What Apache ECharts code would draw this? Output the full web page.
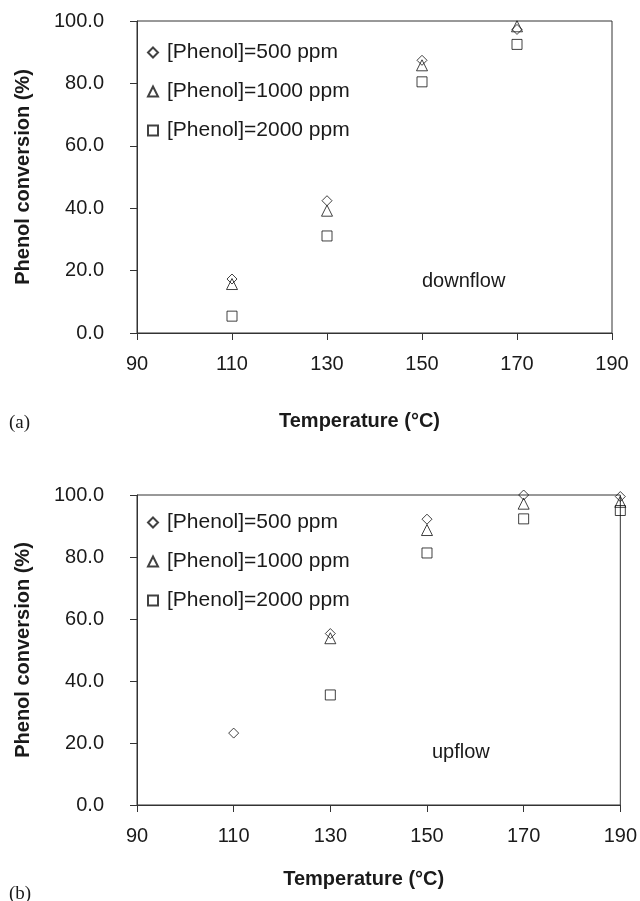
<!DOCTYPE html>
<html>
<head>
<meta charset="utf-8">
<script src="https://cdn.jsdelivr.net/npm/echarts@6/dist/echarts.min.js"></script>
<style>
html,body{margin:0;padding:0;background:#fff;}
#chart{width:640px;height:901px;}
</style>
</head>
<body>
<div id="chart"></div>
<script>
// ---- data ----
const seriesNames = ['[Phenol]=500 ppm', '[Phenol]=1000 ppm', '[Phenol]=2000 ppm'];
const xTicks = [90, 110, 130, 150, 170, 190];
const yTicks = [0, 20, 40, 60, 80, 100];

const downTemps = [110, 130, 150, 170];
const down500 = [17.3, 42.4, 87.4, 97.3];
const down1000 = [15.7, 39.2, 85.8, 98.3];
const down2000 = [5.4, 31.1, 80.5, 92.5];

const upTemps = [110, 130, 150, 170, 190];
const up500 = [23.2, 55.3, 92.2, 100.0, 99.5];
const up1000 = [null, 53.8, 88.7, 97.2, 97.8];
const up2000 = [null, 35.5, 81.3, 92.3, 95.0];

const panelLabels = ['(a)', '(b)'];
const flowLabels = ['downflow', 'upflow'];
const xTitle = 'Temperature (\u00B0C)';
const yTitle = 'Phenol conversion (%)';

// ---- helpers ----
const symbols = ['diamond', 'triangle', 'rect'];
const symbolSizes = [10, 11, 10];
const TXT = '#1a1a1a';
const LINE = '#333';
const FONT = '"Liberation Sans", Arial, sans-serif';

function pairs(xs, ys) {
  const out = [];
  xs.forEach((x, i) => { if (ys[i] !== null) out.push([x, ys[i]]); });
  return out;
}

function xAxisCfg(gridIndex, nameGap) {
  return {
    type: 'value', gridIndex, min: xTicks[0], max: xTicks[xTicks.length - 1], interval: 20,
    name: xTitle, nameLocation: 'middle', nameGap,
    nameTextStyle: { fontFamily: FONT, fontWeight: 'bold', fontSize: 20, color: TXT, padding: [0, 30, 0, 0] },
    axisLine: { show: true, lineStyle: { color: LINE, width: 1 } },
    axisTick: { show: true, inside: false, length: 7, lineStyle: { color: LINE } },
    axisLabel: { fontFamily: FONT, fontSize: 20, color: TXT, margin: 21 },
    splitLine: { show: false }
  };
}
function yAxisCfg(gridIndex) {
  return {
    type: 'value', gridIndex, min: yTicks[0], max: yTicks[yTicks.length - 1], interval: 20,
    name: yTitle, nameLocation: 'middle', nameGap: 104, nameRotate: 90,
    nameTextStyle: { fontFamily: FONT, fontWeight: 'bold', fontSize: 20, color: TXT },
    axisLine: { show: true, lineStyle: { color: LINE, width: 1 } },
    axisTick: { show: true, inside: false, length: 7, lineStyle: { color: LINE } },
    axisLabel: { fontFamily: FONT, fontSize: 20, color: TXT, margin: 33, formatter: v => v.toFixed(1) },
    splitLine: { show: false }
  };
}
function scatter(name, idx, gridIdx, xs, ys) {
  return {
    type: 'scatter', name, xAxisIndex: gridIdx, yAxisIndex: gridIdx,
    symbol: symbols[idx], symbolSize: symbolSizes[idx],
    itemStyle: { color: 'rgba(255,255,255,0)', borderColor: '#111', borderWidth: 1 },
    data: pairs(xs, ys)
  };
}
function legendCfg(top, gap) {
  return {
    orient: 'vertical', left: 147, top, padding: 0, itemGap: gap,
    itemWidth: 10, itemHeight: 10, data: seriesNames, selectedMode: false,
    textStyle: { fontFamily: FONT, fontSize: 21, color: TXT, lineHeight: 21, padding: [0, 0, 0, 4] }
  };
}

const chart = echarts.init(document.getElementById('chart'), null, { renderer: 'canvas' });
chart.setOption({
  backgroundColor: '#fff',
  animation: false,
  grid: [
    { left: 137, top: 21, width: 475, height: 312, show: true, borderColor: LINE, borderWidth: 1, backgroundColor: 'transparent' },
    { left: 137, top: 495, width: 488, height: 310, show: true, borderColor: LINE, borderWidth: 1, backgroundColor: 'transparent' }
  ],
  xAxis: [xAxisCfg(0, 78), xAxisCfg(1, 64)],
  yAxis: [yAxisCfg(0), yAxisCfg(1)],
  legend: [legendCfg(42, 18), legendCfg(512, 18)],
  series: [
    scatter(seriesNames[0], 0, 0, downTemps, down500),
    scatter(seriesNames[1], 1, 0, downTemps, down1000),
    scatter(seriesNames[2], 2, 0, downTemps, down2000),
    scatter(seriesNames[0], 0, 1, upTemps, up500),
    scatter(seriesNames[1], 1, 1, upTemps, up1000),
    scatter(seriesNames[2], 2, 1, upTemps, up2000)
  ],
  graphic: [
    { type: 'text', left: 422, top: 271, style: { text: flowLabels[0], font: '20px ' + FONT, fill: TXT } },
    { type: 'text', left: 432, top: 742, style: { text: flowLabels[1], font: '20px ' + FONT, fill: TXT } },
    { type: 'text', left: 9, top: 414, style: { text: panelLabels[0], font: '19px "Liberation Serif", "Times New Roman", serif', fill: TXT } },
    { type: 'text', left: 9, top: 885, style: { text: panelLabels[1], font: '19px "Liberation Serif", "Times New Roman", serif', fill: TXT } }
  ]
});
</script>
</body>
</html>
